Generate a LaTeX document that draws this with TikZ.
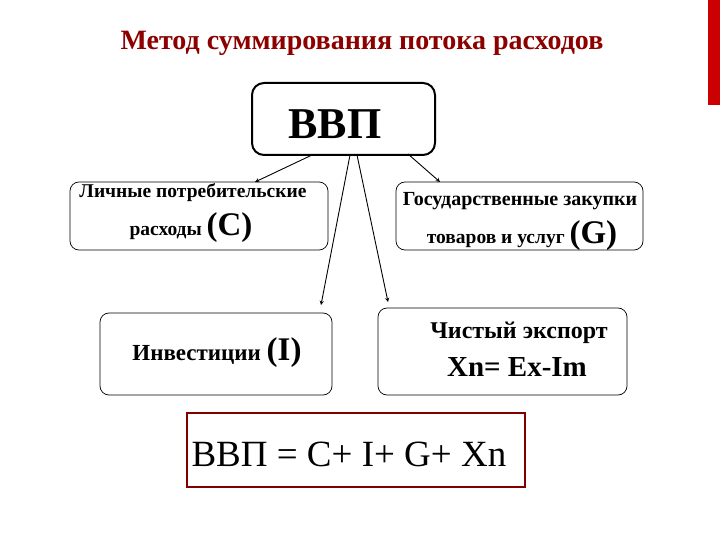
\documentclass[tikz,border=0pt]{standalone}
\usepackage{fontspec}
\setmainfont{Liberation Serif}
\begin{document}
\begin{tikzpicture}[x=1pt,y=-1pt,
  box/.style={draw=black,line width=0.7pt,rounded corners=9pt,fill=white},
  arr/.style={-stealth,line width=0.9pt},
  txt/.style={font=\bfseries,align=center}]
\useasboundingbox (0,0) rectangle (720,540);
\fill[white] (0,0) rectangle (720,540);
\fill[red!80!black] (708,0) rectangle (720,105);
\node[txt,text=red!55!black,font=\bfseries\fontsize{28}{30}\selectfont] (title) at (362,43) {Метод суммирования потока расходов};
\draw[box,line width=2pt,rounded corners=12pt] (252,83) rectangle (435,155);
\node[txt,font=\bfseries\fontsize{44}{46}\selectfont] (gdp) at (335,124) {ВВП};
\draw[box] (70,182) rectangle (328,250);
\node[txt,font=\bfseries\fontsize{19.5}{22}\selectfont] (c1) at (193,193) {Личные потребительские};
\node[txt,font=\bfseries\fontsize{19.5}{22}\selectfont] (c2) at (191,228) {расходы \fontsize{33}{35}\selectfont(C)};
\draw[box] (396,182) rectangle (643,250);
\node[txt,font=\bfseries\fontsize{20}{22}\selectfont] (g1) at (520,201) {Государственные закупки};
\node[txt,font=\bfseries\fontsize{19.5}{22}\selectfont] (g2) at (522,236) {товаров и услуг \fontsize{33}{35}\selectfont(G)};
\draw[box] (100,313) rectangle (332,395);
\node[txt,font=\bfseries\fontsize{23}{25}\selectfont] (inv) at (217,353) {Инвестиции \fontsize{33}{35}\selectfont(I)};
\draw[box] (378,308) rectangle (627,395);
\node[txt,font=\bfseries\fontsize{24}{26}\selectfont] (ex1) at (519,333) {Чистый экспорт};
\node[txt,font=\bfseries\fontsize{29}{31}\selectfont] (ex2) at (517,367) {Xn= Ex-Im};
\draw[draw=red!50!black,line width=2.5pt,fill=white] (187,413) rectangle (525,487);
\node[anchor=west,font=\fontsize{37}{40}\selectfont] (f) at (188,454) {ВВП = C+ I+ G+ Xn};
\coordinate (a1) at (312,155); \coordinate (b1) at (255,182);
\coordinate (a2) at (408,154); \coordinate (b2) at (440,182);
\coordinate (a3) at (350,155); \coordinate (b3) at (321,305);
\coordinate (a4) at (357,155); \coordinate (b4) at (388,302);
\draw[arr] (a1) -- (b1);
\draw[arr] (a2) -- (b2);
\draw[arr] (a3) -- (b3);
\draw[arr] (a4) -- (b4);
\end{tikzpicture}
\end{document}
